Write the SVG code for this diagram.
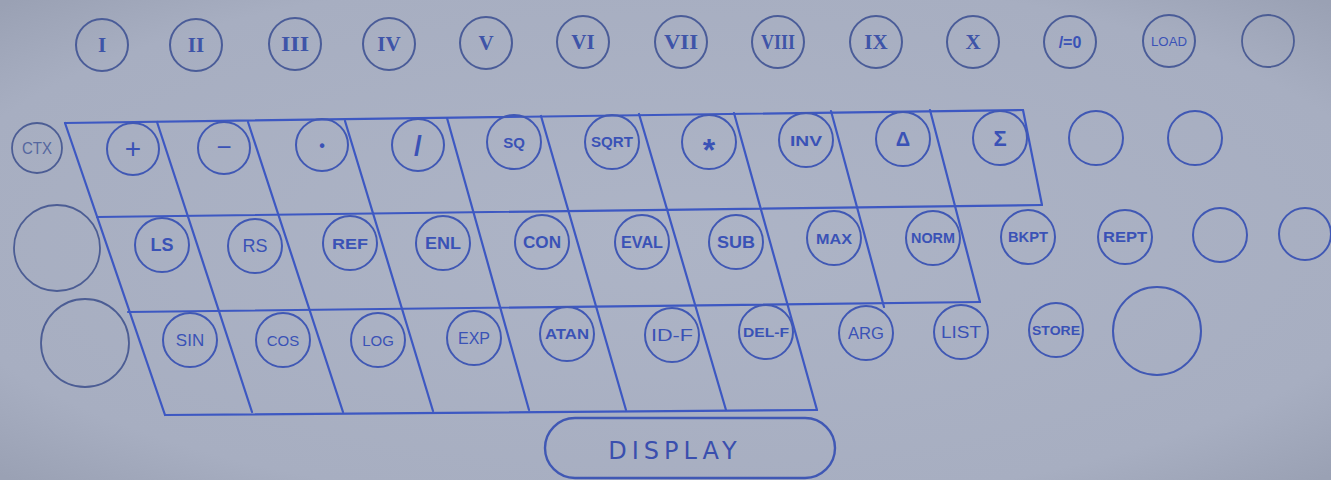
<svg xmlns="http://www.w3.org/2000/svg" width="1331" height="480" viewBox="0 0 1331 480">
<defs>
<radialGradient id="bg" cx="50%" cy="50%" r="70%">
<stop offset="0" stop-color="#adb4c6"/>
<stop offset="0.8" stop-color="#a7aec1"/>
<stop offset="1" stop-color="#9aa1b4"/>
</radialGradient>
</defs>
<style>
.k{fill:none;stroke:#4058b4;stroke-width:2}
.t{fill:none;stroke:#4a5c98;stroke-width:2}
.e{fill:none;stroke:#4c5d94;stroke-width:1.8}
.g line{stroke:#3d58c2;stroke-width:2.2;stroke-linecap:round}
.l{font-family:"Liberation Sans","DejaVu Sans",sans-serif;fill:#3a52b6;text-anchor:middle;dominant-baseline:central;font-weight:bold}
.n{font-weight:normal}
.r{font-family:"Liberation Serif","DejaVu Serif",serif;fill:#3e54a8;text-anchor:middle;dominant-baseline:central;font-size:21px;font-weight:bold}
.d{font-family:"DejaVu Sans","Liberation Sans",sans-serif;fill:#3a4fae;font-size:24px;letter-spacing:5px;text-anchor:middle;dominant-baseline:central}
</style>
<rect width="1331" height="480" fill="url(#bg)"/>

<g id="keyboard-grid" class="g">
<line x1="65" y1="123" x2="1023" y2="110"/>
<line x1="97" y1="217" x2="1042" y2="205"/>
<line x1="128" y1="312" x2="980" y2="302"/>
<line x1="165" y1="415" x2="817" y2="410"/>
<line x1="65" y1="123" x2="165" y2="415"/>
<line x1="157" y1="122" x2="252" y2="412"/>
<line x1="248" y1="122" x2="343" y2="412"/>
<line x1="345" y1="121" x2="433" y2="411"/>
<line x1="447" y1="118" x2="529" y2="410"/>
<line x1="541" y1="116" x2="626" y2="410"/>
<line x1="639" y1="114" x2="726" y2="410"/>
<line x1="734" y1="113" x2="817" y2="410"/>
<line x1="831" y1="111" x2="884" y2="307"/>
<line x1="930" y1="110" x2="980" y2="302"/>
<line x1="1023" y1="110" x2="1042" y2="205"/>
</g>
<g id="connectors"/>

<!-- top row -->
<g id="key-I"><circle class="t" cx="102" cy="45" r="26"/><text class="r" x="102" y="45">I</text></g>
<g id="key-II"><circle class="t" cx="196" cy="45" r="26"/><text class="r" x="196" y="45">II</text></g>
<g id="key-III"><circle class="t" cx="295" cy="44" r="26"/><text class="r" x="295" y="44" textLength="28" lengthAdjust="spacingAndGlyphs">III</text></g>
<g id="key-IV"><circle class="t" cx="389" cy="44" r="26"/><text class="r" x="389" y="44">IV</text></g>
<g id="key-V"><circle class="t" cx="486" cy="43" r="26"/><text class="r" x="486" y="43">V</text></g>
<g id="key-VI"><circle class="t" cx="583" cy="42" r="26"/><text class="r" x="583" y="42">VI</text></g>
<g id="key-VII"><circle class="t" cx="681" cy="42" r="26"/><text class="r" x="681" y="42" textLength="34" lengthAdjust="spacingAndGlyphs">VII</text></g>
<g id="key-VIII"><circle class="t" cx="778" cy="42" r="26"/><text class="r" x="778" y="42" textLength="34" lengthAdjust="spacingAndGlyphs">VIII</text></g>
<g id="key-IX"><circle class="t" cx="876" cy="42" r="26"/><text class="r" x="876" y="42">IX</text></g>
<g id="key-X"><circle class="t" cx="973" cy="42" r="26"/><text class="r" x="973" y="42">X</text></g>
<g id="key-eq0"><circle class="t" cx="1070" cy="42" r="26"/><text class="l" x="1070" y="42" font-size="16">/=0</text></g>
<g id="key-LOAD"><circle class="t" cx="1169" cy="41" r="26"/><text class="l n" x="1169" y="41" font-size="13" textLength="36" lengthAdjust="spacingAndGlyphs">LOAD</text></g>
<g id="key-top-blank"><circle class="e" cx="1268" cy="41" r="26"/></g>

<!-- row 1 -->
<g id="key-CTX"><circle class="e" cx="37" cy="148" r="25"/><text class="l n" x="37" y="148" font-size="16" style="fill:#55679f" textLength="30" lengthAdjust="spacingAndGlyphs">CTX</text></g>
<g id="key-plus"><circle class="k" cx="133" cy="149" r="26"/><text class="l n" x="133" y="148" font-size="28">+</text></g>
<g id="key-minus"><circle class="k" cx="224" cy="148" r="26"/><text class="l n" x="224" y="147" font-size="26">−</text></g>
<g id="key-dot"><circle class="k" cx="322" cy="145" r="26"/><text class="l" x="322" y="145" font-size="16">•</text></g>
<g id="key-div"><circle class="k" cx="418" cy="145" r="26"/><text class="l" x="418" y="145" font-size="28">/</text></g>
<g id="key-SQ"><circle class="k" cx="514" cy="142" r="27"/><text class="l" x="514" y="142" font-size="15">SQ</text></g>
<g id="key-SQRT"><circle class="k" cx="612" cy="142" r="27"/><text class="l" x="612" y="142" font-size="14" textLength="42" lengthAdjust="spacingAndGlyphs">SQRT</text></g>
<g id="key-mul"><circle class="k" cx="709" cy="142" r="27"/><text class="l" x="709" y="150" font-size="32">*</text></g>
<g id="key-INV"><circle class="k" cx="806" cy="140" r="27"/><text class="l" x="806" y="140" font-size="15" textLength="32" lengthAdjust="spacingAndGlyphs">INV</text></g>
<g id="key-delta"><circle class="k" cx="903" cy="139" r="27"/><text class="l" x="903" y="139" font-size="20">Δ</text></g>
<g id="key-sigma"><circle class="k" cx="1000" cy="138" r="27"/><text class="l" x="1000" y="138" font-size="22">Σ</text></g>
<g id="key-r1-blank1"><circle class="k" cx="1096" cy="138" r="27"/></g>
<g id="key-r1-blank2"><circle class="k" cx="1195" cy="138" r="27"/></g>

<!-- row 2 -->
<g id="key-r2-big"><circle class="e" cx="57" cy="248" r="43"/></g>
<g id="key-LS"><circle class="k" cx="162" cy="245" r="27"/><text class="l" x="162" y="245" font-size="18">LS</text></g>
<g id="key-RS"><circle class="k" cx="255" cy="246" r="27"/><text class="l n" x="255" y="246" font-size="18">RS</text></g>
<g id="key-REF"><circle class="k" cx="350" cy="243" r="27"/><text class="l" x="350" y="243" font-size="15" textLength="36" lengthAdjust="spacingAndGlyphs">REF</text></g>
<g id="key-ENL"><circle class="k" cx="443" cy="243" r="27"/><text class="l" x="443" y="243" font-size="16" textLength="36" lengthAdjust="spacingAndGlyphs">ENL</text></g>
<g id="key-CON"><circle class="k" cx="542" cy="242" r="27"/><text class="l" x="542" y="242" font-size="16" textLength="38" lengthAdjust="spacingAndGlyphs">CON</text></g>
<g id="key-EVAL"><circle class="k" cx="642" cy="242" r="27"/><text class="l" x="642" y="242" font-size="16" textLength="42" lengthAdjust="spacingAndGlyphs">EVAL</text></g>
<g id="key-SUB"><circle class="k" cx="736" cy="242" r="27"/><text class="l" x="736" y="242" font-size="16" textLength="38" lengthAdjust="spacingAndGlyphs">SUB</text></g>
<g id="key-MAX"><circle class="k" cx="834" cy="238" r="27"/><text class="l" x="834" y="238" font-size="15" textLength="36" lengthAdjust="spacingAndGlyphs">MAX</text></g>
<g id="key-NORM"><circle class="k" cx="933" cy="238" r="27"/><text class="l" x="933" y="238" font-size="14" textLength="44" lengthAdjust="spacingAndGlyphs">NORM</text></g>
<g id="key-BKPT"><circle class="k" cx="1028" cy="237" r="27"/><text class="l" x="1028" y="237" font-size="14" textLength="40" lengthAdjust="spacingAndGlyphs">BKPT</text></g>
<g id="key-REPT"><circle class="k" cx="1125" cy="237" r="27"/><text class="l" x="1125" y="237" font-size="14" textLength="44" lengthAdjust="spacingAndGlyphs">REPT</text></g>
<g id="key-r2-blank1"><circle class="k" cx="1220" cy="235" r="27"/></g>
<g id="key-r2-blank2"><circle class="k" cx="1305" cy="234" r="26"/></g>

<!-- row 3 -->
<g id="key-r3-big"><circle class="e" cx="85" cy="343" r="44"/></g>
<g id="key-SIN"><circle class="k" cx="190" cy="340" r="27"/><text class="l n" x="190" y="340" font-size="17">SIN</text></g>
<g id="key-COS"><circle class="k" cx="283" cy="340" r="27"/><text class="l n" x="283" y="340" font-size="15">COS</text></g>
<g id="key-LOG"><circle class="k" cx="378" cy="340" r="27"/><text class="l n" x="378" y="340" font-size="15">LOG</text></g>
<g id="key-EXP"><circle class="k" cx="474" cy="338" r="27"/><text class="l n" x="474" y="338" font-size="16">EXP</text></g>
<g id="key-ATAN"><circle class="k" cx="567" cy="334" r="27"/><text class="l" x="567" y="334" font-size="14" textLength="44" lengthAdjust="spacingAndGlyphs">ATAN</text></g>
<g id="key-IDF"><circle class="k" cx="672" cy="335" r="27"/><text class="l n" x="672" y="335" font-size="17" textLength="42" lengthAdjust="spacingAndGlyphs">ID-F</text></g>
<g id="key-DELF"><circle class="k" cx="766" cy="332" r="27"/><text class="l" x="766" y="332" font-size="13" textLength="46" lengthAdjust="spacingAndGlyphs">DEL-F</text></g>
<g id="key-ARG"><circle class="k" cx="866" cy="333" r="27"/><text class="l n" x="866" y="333" font-size="16" textLength="36" lengthAdjust="spacingAndGlyphs">ARG</text></g>
<g id="key-LIST"><circle class="k" cx="961" cy="332" r="27"/><text class="l n" x="961" y="332" font-size="17" textLength="40" lengthAdjust="spacingAndGlyphs">LIST</text></g>
<g id="key-STORE"><circle class="k" cx="1056" cy="330" r="27"/><text class="l" x="1056" y="330" font-size="13" textLength="48" lengthAdjust="spacingAndGlyphs">STORE</text></g>
<g id="key-r3-big-right"><circle class="k" cx="1157" cy="331" r="44"/></g>

<!-- display -->
<g id="display"><rect class="k" x="545" y="418" width="290" height="60" rx="30" style="stroke-width:2.4"/><text class="d" x="675" y="451">DISPLAY</text></g>
</svg>
